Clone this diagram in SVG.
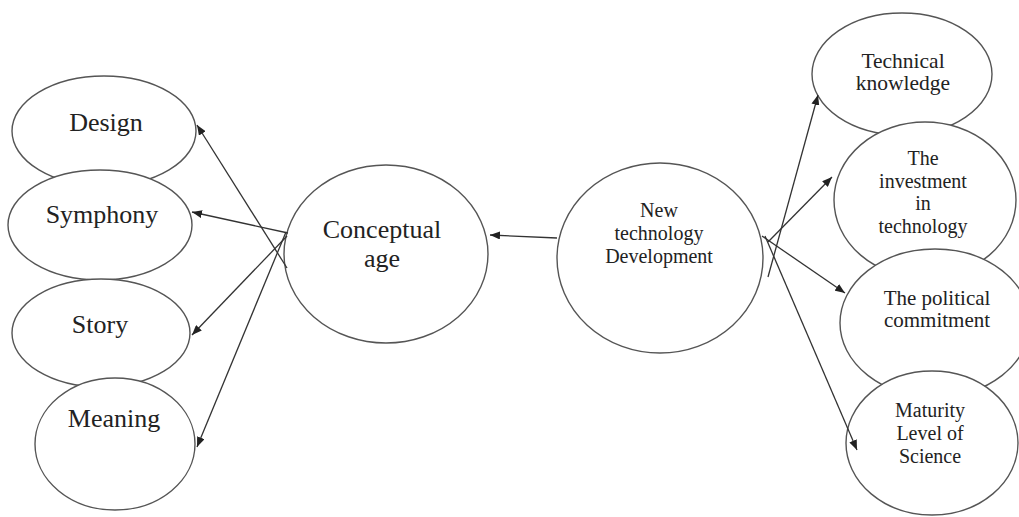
<svg xmlns="http://www.w3.org/2000/svg" width="1019" height="517" viewBox="0 0 1019 517">
  <style>
    .node ellipse { fill: #ffffff; stroke: #555555; stroke-width: 1.4; }
    .node text { fill: #222222; text-anchor: middle; }
    .big text { font-size: 26px; }
    .mid text { font-size: 20px; }
    .edge { stroke: #333333; stroke-width: 1.3; fill: none; marker-end: url(#tip); }
  </style>
  <defs>
    <marker id="tip" markerUnits="userSpaceOnUse" markerWidth="11" markerHeight="8" refX="10" refY="4" orient="auto">
      <path d="M0,0 L10,4 L0,8 z" fill="#222222"/>
    </marker>
  </defs>
  <rect width="1019" height="517" fill="#ffffff"/>

  <g font-family="Liberation Serif, DejaVu Serif, serif">
  <!-- left column -->
  <g id="design" class="node big">
    <ellipse cx="104" cy="131" rx="92" ry="55"/>
    <text x="106" y="131">Design</text>
  </g>
  <g id="symphony" class="node big">
    <ellipse cx="100" cy="225" rx="92" ry="55"/>
    <text x="102" y="223">Symphony</text>
  </g>
  <g id="story" class="node big">
    <ellipse cx="101" cy="333" rx="89" ry="54"/>
    <text x="100" y="333">Story</text>
  </g>
  <g id="meaning" class="node big">
    <ellipse cx="115" cy="444" rx="80" ry="66"/>
    <text x="114" y="427">Meaning</text>
  </g>

  <!-- centre -->
  <g id="conceptual-age" class="node big">
    <ellipse cx="386" cy="254" rx="102" ry="89"/>
    <text x="382" y="238">Conceptual</text>
    <text x="382" y="267">age</text>
  </g>
  <g id="new-technology" class="node mid">
    <ellipse cx="660" cy="258" rx="103" ry="95"/>
    <text x="659" y="217">New</text>
    <text x="659" y="240">technology</text>
    <text x="659" y="263">Development</text>
  </g>

  <!-- right column -->
  <g id="technical-knowledge" class="node mid">
    <ellipse cx="902" cy="74" rx="90" ry="61"/>
    <text x="903" y="68" style="font-size:21.5px">Technical</text>
    <text x="903" y="90" style="font-size:21.5px">knowledge</text>
  </g>
  <g id="investment" class="node mid">
    <ellipse cx="925" cy="200" rx="91" ry="78"/>
    <text x="923" y="165">The</text>
    <text x="923" y="188">investment</text>
    <text x="923" y="210">in</text>
    <text x="923" y="233">technology</text>
  </g>
  <g id="political-commitment" class="node mid">
    <ellipse cx="935" cy="323" rx="95" ry="74"/>
    <text x="937" y="305" style="font-size:21px">The political</text>
    <text x="937" y="327" style="font-size:21px">commitment</text>
  </g>
  <g id="maturity" class="node mid">
    <ellipse cx="932" cy="443" rx="86" ry="72"/>
    <text x="930" y="417">Maturity</text>
    <text x="930" y="440">Level of</text>
    <text x="930" y="463">Science</text>
  </g>
  </g>

  <!-- connectors -->
  <g id="connectors">
    <line class="edge" x1="287" y1="268" x2="197" y2="125"/>
    <line class="edge" x1="288" y1="233" x2="192" y2="212"/>
    <line class="edge" x1="287" y1="236" x2="192" y2="335"/>
    <line class="edge" x1="286" y1="232" x2="197" y2="447"/>
    <line class="edge" x1="557" y1="238" x2="490" y2="235"/>
    <line class="edge" x1="768" y1="277" x2="818" y2="95"/>
    <line class="edge" x1="768" y1="242" x2="832" y2="177"/>
    <line class="edge" x1="762" y1="236" x2="845" y2="293"/>
    <line class="edge" x1="765" y1="236" x2="857" y2="450"/>
  </g>
</svg>
